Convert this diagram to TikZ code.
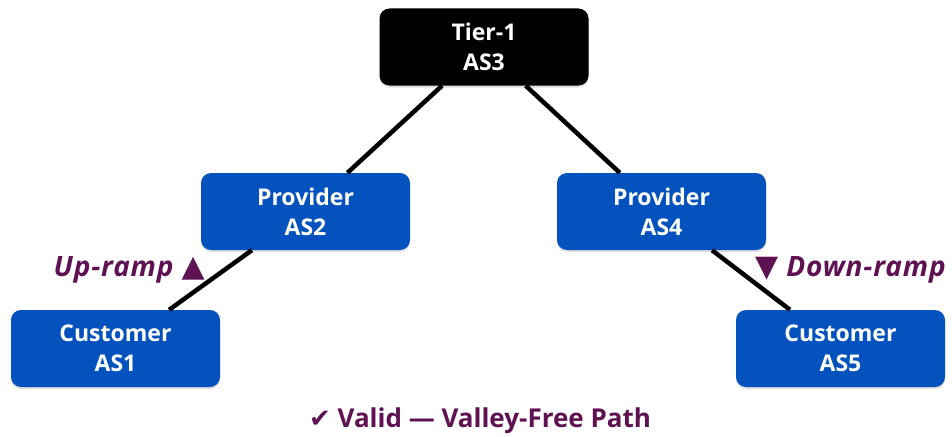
\documentclass[tikz,border=0pt]{standalone}
\usepackage{fontspec}
\setmainfont{Open Sans}
\newfontfamily\symfont{DejaVu Sans}
\usetikzlibrary{shapes,arrows,shadows}
\definecolor{asblue}{RGB}{4,82,190}
\definecolor{rampcolor}{RGB}{94,18,82}

\begin{document}
\begin{tikzpicture}[x=1pt,y=-1pt,
	block/.style={
		rectangle,
		rounded corners=10pt,
		fill=asblue,
		text=white,
		inner sep=0pt,
		minimum width=209pt,
		minimum height=77pt,
		align=center,
		drop shadow={opacity=0.25,shadow xshift=0pt,shadow yshift=-2pt},
		font=\bfseries\fontsize{23}{30}\selectfont},
	tier/.style={
		block,
		fill=black},
	ramp/.style={
		text=rampcolor,
		inner sep=0pt,
		font=\bfseries\itshape\fontsize{28}{30}\selectfont\addfontfeature{LetterSpace=3}},
	line/.style={
		draw,
		line width=4.5pt}]

    \useasboundingbox (0,0) rectangle (952,436);

    % Place nodes
    \node [tier] (as3) at (484,47) {Tier-1\\AS3};
    \node [block] (as2) at (305.5,211.5) {Provider\\AS2};
    \node [block, right of=as2, node distance=356pt] (as4) {Provider\\AS4};
    \node [block] (as1) at (115.5,348.5) {Customer\\AS1};
    \node [block, right of=as1, node distance=725pt] (as5) {Customer\\AS5};
    % Draw edges
    \path [line] (as3) -- (as2);
    \path [line] (as3) -- (as4);
    \path [line] (as2) -- (as1);
    \path [line] (as4) -- (as5);
    % Ramp labels
    \node [ramp, anchor=east] (up) at (205,270) {Up-ramp {\symfont\upshape\fontsize{30}{30}\selectfont ▲}};
    \node [ramp, anchor=west] (down) at (755,270) {{\symfont\upshape\fontsize{30}{30}\selectfont ▼} Down-ramp};
    \node [ramp, font=\bfseries\fontsize{26}{28}\selectfont] (valid) at (480,421) {{\symfont ✔} Valid — Valley-Free Path};
\end{tikzpicture}
\end{document}
